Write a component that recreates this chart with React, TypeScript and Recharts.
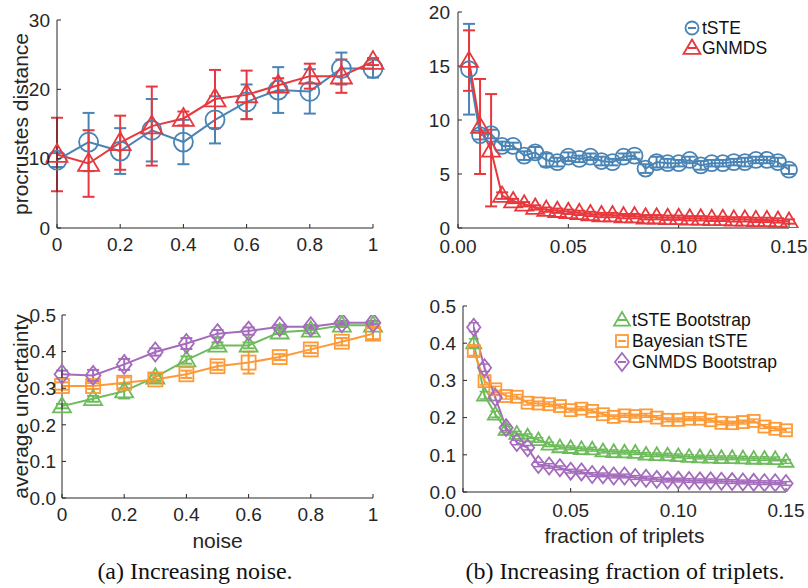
import React from 'react';
import { LineChart, Line, XAxis, YAxis, ErrorBar, Legend, Label } from 'recharts';

const SANS = '"Liberation Sans", Arial, Helvetica, sans-serif';
const SERIF = '"Liberation Serif", "Times New Roman", serif';
const INK = '#262626';
const BLUE = '#4a84b5';
const RED = '#e8383d';
const GREEN = '#6dbb5b';
const ORANGE = '#fd9a38';
const PURPLE = '#a56bbd';

// (a) increasing noise
const noiseLevels = [0, 0.1, 0.2, 0.3, 0.4, 0.5, 0.6, 0.7, 0.8, 0.9, 1];
const noiseTste = [9.8, 12.4, 11.1, 14.1, 12.4, 15.6, 18.2, 19.9, 19.7, 23.0, 23.0];
const noiseTsteErr = [1.0, 4.2, 3.3, 4.5, 3.2, 3.4, 2.5, 3.3, 3.2, 2.3, 1.3];
const noiseGnmds = [10.6, 9.3, 12.3, 14.7, 15.8, 18.6, 19.2, 20.6, 21.9, 21.9, 24.0];
const noiseGnmdsErr = [5.3, 4.8, 3.9, 5.7, 1.0, 4.2, 3.5, 1.0, 1.8, 2.4, 0.5];

const noiseTsteBoot = [0.251, 0.271, 0.292, 0.33, 0.377, 0.417, 0.417, 0.453, 0.458, 0.472, 0.472];
const noiseTsteBootErr = [0.006, 0.008, 0.02, 0.01, 0.01, 0.008, 0.008, 0.005, 0.008, 0.005, 0.005];
const noiseBayes = [0.306, 0.306, 0.315, 0.324, 0.338, 0.36, 0.37, 0.385, 0.406, 0.427, 0.449];
const noiseBayesErr = [0.01, 0.008, 0.015, 0.01, 0.01, 0.01, 0.03, 0.008, 0.01, 0.01, 0.015];
const noiseGnmdsBoot = [0.338, 0.335, 0.365, 0.399, 0.422, 0.449, 0.456, 0.468, 0.468, 0.479, 0.479];
const noiseGnmdsBootErr = [0.01, 0.015, 0.015, 0.01, 0.015, 0.01, 0.01, 0.005, 0.005, 0.005, 0.005];

// (b) increasing fraction of triplets
const fractions = [
  0.005, 0.01, 0.015, 0.02, 0.025, 0.03, 0.035, 0.04, 0.045, 0.05,
  0.055, 0.06, 0.065, 0.07, 0.075, 0.08, 0.085, 0.09, 0.095, 0.1,
  0.105, 0.11, 0.115, 0.12, 0.125, 0.13, 0.135, 0.14, 0.145, 0.15,
];
const fracTste = [
  14.7, 8.6, 8.7, 7.6, 7.6, 6.7, 7.0, 6.3, 6.1, 6.6,
  6.4, 6.6, 6.2, 6.1, 6.6, 6.7, 5.5, 6.1, 6.0, 6.0,
  6.3, 5.8, 6.0, 6.0, 6.1, 6.1, 6.3, 6.3, 6.1, 5.4,
];
const fracTsteErr = [
  4.2, 0.4, 0.4, 0.4, 0.3, 0.4, 0.5, 0.6, 0.4, 0.4,
  0.3, 0.3, 0.4, 0.3, 0.3, 0.3, 0.4, 0.5, 0.4, 0.3,
  0.3, 0.4, 0.3, 0.3, 0.3, 0.4, 0.3, 0.3, 0.4, 0.4,
];
const fracGnmds = [
  15.5, 9.4, 7.2, 3.0, 2.5, 2.2, 1.9, 1.7, 1.6, 1.5,
  1.4, 1.3, 1.2, 1.2, 1.1, 1.1, 1.0, 1.0, 0.95, 0.95,
  0.9, 0.9, 0.85, 0.85, 0.8, 0.8, 0.75, 0.75, 0.7, 0.6,
];
const fracGnmdsErr = [
  2.8, 4.4, 5.2, 0.3, 0.2, 0.2, 0.2, 0.2, 0.2, 0.2,
  0.2, 0.2, 0.2, 0.2, 0.2, 0.2, 0.2, 0.2, 0.2, 0.2,
  0.2, 0.2, 0.2, 0.2, 0.2, 0.2, 0.2, 0.2, 0.2, 0.2,
];

const fracTsteBoot = [
  0.4, 0.26, 0.209, 0.168, 0.157, 0.15, 0.14, 0.128, 0.121, 0.119,
  0.116, 0.115, 0.11, 0.108, 0.107, 0.106, 0.101, 0.1, 0.099, 0.097,
  0.095, 0.094, 0.093, 0.092, 0.092, 0.091, 0.09, 0.09, 0.089, 0.082,
];
const fracBayes = [
  0.379, 0.298, 0.276, 0.258, 0.256, 0.24, 0.238, 0.236, 0.231, 0.22,
  0.224, 0.218, 0.209, 0.202, 0.206, 0.204, 0.206, 0.2, 0.194, 0.194,
  0.197, 0.197, 0.193, 0.186, 0.185, 0.188, 0.191, 0.176, 0.17, 0.166,
];
const fracGnmdsBoot = [
  0.443, 0.334, 0.254, 0.173, 0.133, 0.119, 0.074, 0.07, 0.065, 0.056,
  0.054, 0.047, 0.046, 0.043, 0.043, 0.039, 0.037, 0.034, 0.032, 0.032,
  0.031, 0.03, 0.03, 0.029, 0.028, 0.027, 0.026, 0.025, 0.025, 0.023,
];
const fracBootErr = [
  0.012, 0.01, 0.008, 0.008, 0.006, 0.006, 0.006, 0.006, 0.005, 0.005,
  0.005, 0.005, 0.005, 0.005, 0.005, 0.005, 0.005, 0.005, 0.005, 0.005,
  0.005, 0.005, 0.005, 0.005, 0.005, 0.005, 0.005, 0.005, 0.005, 0.005,
];

const noiseTicks = [0, 0.2, 0.4, 0.6, 0.8, 1];
const fracTicks = [0, 0.05, 0.1, 0.15];
const distTicksA = [0, 10, 20, 30];
const distTicksB = [0, 5, 10, 15, 20];
const uncTicks = [0, 0.1, 0.2, 0.3, 0.4, 0.5];

const noiseDistRows = noiseLevels.map((x, i) => ({
  x, tste: noiseTste[i], tsteErr: noiseTsteErr[i], gnmds: noiseGnmds[i], gnmdsErr: noiseGnmdsErr[i],
}));
const fracDistRows = fractions.map((x, i) => ({
  x, tste: fracTste[i], tsteErr: fracTsteErr[i], gnmds: fracGnmds[i], gnmdsErr: fracGnmdsErr[i],
}));
const noiseUncRows = noiseLevels.map((x, i) => ({
  x,
  boot: noiseTsteBoot[i], bootErr: noiseTsteBootErr[i],
  bayes: noiseBayes[i], bayesErr: noiseBayesErr[i],
  gboot: noiseGnmdsBoot[i], gbootErr: noiseGnmdsBootErr[i],
}));
const fracUncRows = fractions.map((x, i) => ({
  x,
  boot: fracTsteBoot[i], bootErr: fracBootErr[i],
  bayes: fracBayes[i], bayesErr: fracBootErr[i],
  gboot: fracGnmdsBoot[i], gbootErr: fracBootErr[i],
}));

type Shape = 'circle' | 'triangle' | 'square' | 'diamond';

const Marker = ({ shape, cx, cy, r, color }: { shape: Shape; cx: number; cy: number; r: number; color: string }) => {
  const st = { fill: 'none', stroke: color, strokeWidth: 1.8 };
  if (shape === 'circle') return <circle cx={cx} cy={cy} r={r} {...st} />;
  if (shape === 'square') return <rect x={cx - r} y={cy - r} width={2 * r} height={2 * r} {...st} />;
  if (shape === 'diamond') {
    const w = r * 0.78;
    return <polygon points={`${cx},${cy - r} ${cx + w},${cy} ${cx},${cy + r} ${cx - w},${cy}`} {...st} />;
  }
  return <polygon points={`${cx},${cy - r} ${cx + r},${cy + 0.7 * r} ${cx - r},${cy + 0.7 * r}`} {...st} />;
};

const dotFor = (shape: Shape, r: number, color: string) => (p: any) => {
  if (p.cx == null || p.cy == null) return <g key={`e${p.index}`} />;
  return <Marker key={`m${p.index}`} shape={shape} cx={p.cx} cy={p.cy} r={r} color={color} />;
};

const yTitle = (text: string, x: number) => (props: any) => {
  const vb = props.viewBox || {};
  const cy = vb.y + vb.height / 2;
  return (
    <text x={x} y={cy} transform={`rotate(-90, ${x}, ${cy})`} textAnchor="middle" dominantBaseline="central"
      fill={INK} fontSize={21} fontFamily={SANS}>{text}</text>
  );
};

const xTitle = (text: string, dy: number) => (props: any) => {
  const vb = props.viewBox || {};
  return (
    <text x={vb.x + vb.width / 2} y={vb.y + dy} textAnchor="middle" dominantBaseline="central"
      fill={INK} fontSize={21} fontFamily={SANS}>{text}</text>
  );
};

type LegendItem = { name: string; shape: Shape; color: string; r: number };

const legendBox = (items: LegendItem[], rowGap: number, width: number) => () => (
  <svg width={width} height={items.length * rowGap + 6} style={{ display: 'block', overflow: 'visible' }}>
    {items.map((it, i) => {
      const cy = 10 + i * rowGap;
      return (
        <g key={it.name}>
          <Marker shape={it.shape} cx={12} cy={cy} r={it.r} color={it.color} />
          <line x1={8} x2={16} y1={cy} y2={cy} stroke={it.color} strokeWidth={2} />
          <text x={22} y={cy} dominantBaseline="central" fill="#111" fontSize={17.5} fontFamily={SANS}>{it.name}</text>
        </g>
      );
    })}
  </svg>
);

const tickStyle = { fill: INK, fontSize: 19, fontFamily: SANS };
const axisProps = {
  axisLine: { stroke: INK, strokeWidth: 1 },
  tickLine: { stroke: INK, strokeWidth: 1 },
  tick: tickStyle,
  tickSize: -4,
};

const fmt1 = (v: number) => v.toFixed(1);
const fmt2 = (v: number) => v.toFixed(2);

const captionStyle: React.CSSProperties = {
  position: 'absolute', top: 557, textAlign: 'center', fontFamily: SERIF, fontSize: 24, color: '#111', lineHeight: '28px',
  whiteSpace: 'nowrap',
};

export default function App() {
  return (
    <div style={{ position: 'absolute', left: 0, top: 0, width: 808, height: 588, background: '#fff', overflow: 'hidden' }}>
      {/* top-left: procrustes distance vs noise */}
      <div style={{ position: 'absolute', left: 0, top: 0 }}>
        <LineChart width={400} height={270} data={noiseDistRows} margin={{ top: 20, right: 27, bottom: 12, left: 0 }}>
          <XAxis dataKey="x" type="number" domain={[0, 1]} ticks={noiseTicks} height={30} tickMargin={14} {...axisProps} />
          <YAxis type="number" domain={[0, 30]} ticks={distTicksA} width={57} tickMargin={11} allowDataOverflow {...axisProps}>
            <Label content={yTitle('procrustes distance', 20)} />
          </YAxis>
          <Line dataKey="tste" stroke={BLUE} strokeWidth={2} isAnimationActive={false} activeDot={false} dot={dotFor('circle', 9.5, BLUE)}>
            <ErrorBar dataKey="tsteErr" width={6} stroke={BLUE} strokeWidth={2} direction="y" isAnimationActive={false} />
          </Line>
          <Line dataKey="gnmds" stroke={RED} strokeWidth={2} isAnimationActive={false} activeDot={false} dot={dotFor('triangle', 10.5, RED)}>
            <ErrorBar dataKey="gnmdsErr" width={6} stroke={RED} strokeWidth={2} direction="y" isAnimationActive={false} />
          </Line>
        </LineChart>
      </div>

      {/* top-right: procrustes distance vs fraction of triplets */}
      <div style={{ position: 'absolute', left: 400, top: 0 }}>
        <LineChart width={408} height={270} data={fracDistRows} margin={{ top: 12, right: 19, bottom: 12, left: 0 }}>
          <XAxis dataKey="x" type="number" domain={[0, 0.15]} ticks={fracTicks} tickFormatter={fmt2} height={30} tickMargin={16} {...axisProps} />
          <YAxis type="number" domain={[0, 20]} ticks={distTicksB} width={58} tickMargin={12} allowDataOverflow {...axisProps} />
          <Line dataKey="tste" name="tSTE" stroke={BLUE} strokeWidth={2} isAnimationActive={false} activeDot={false} dot={dotFor('circle', 8, BLUE)}>
            <ErrorBar dataKey="tsteErr" width={6} stroke={BLUE} strokeWidth={2} direction="y" isAnimationActive={false} />
          </Line>
          <Line dataKey="gnmds" name="GNMDS" stroke={RED} strokeWidth={2} isAnimationActive={false} activeDot={false} dot={dotFor('triangle', 9, RED)}>
            <ErrorBar dataKey="gnmdsErr" width={6} stroke={RED} strokeWidth={2} direction="y" isAnimationActive={false} />
          </Line>
          <Legend
            layout="vertical" align="center" verticalAlign="middle"
            wrapperStyle={{ position: 'absolute', left: 280, top: 18, width: 120 }}
            content={legendBox([
              { name: 'tSTE', shape: 'circle', color: BLUE, r: 6.5 },
              { name: 'GNMDS', shape: 'triangle', color: RED, r: 8.5 },
            ], 20, 120)}
          />
        </LineChart>
      </div>

      {/* bottom-left: average uncertainty vs noise */}
      <div style={{ position: 'absolute', left: 0, top: 290 }}>
        <LineChart width={400} height={260} data={noiseUncRows} margin={{ top: 25, right: 27, bottom: 2, left: 0 }}>
          <XAxis dataKey="x" type="number" domain={[0, 1]} ticks={noiseTicks} height={50} tickMargin={14} {...axisProps}>
            <Label content={xTitle('noise', 42)} />
          </XAxis>
          <YAxis type="number" domain={[0, 0.5]} ticks={uncTicks} tickFormatter={fmt1} width={62} tickMargin={10} allowDataOverflow {...axisProps}>
            <Label content={yTitle('average uncertainty', 20)} />
          </YAxis>
          <Line dataKey="boot" stroke={GREEN} strokeWidth={2} isAnimationActive={false} activeDot={false} dot={dotFor('triangle', 9, GREEN)}>
            <ErrorBar dataKey="bootErr" width={6} stroke={GREEN} strokeWidth={2} direction="y" isAnimationActive={false} />
          </Line>
          <Line dataKey="bayes" stroke={ORANGE} strokeWidth={2} isAnimationActive={false} activeDot={false} dot={dotFor('square', 7, ORANGE)}>
            <ErrorBar dataKey="bayesErr" width={6} stroke={ORANGE} strokeWidth={2} direction="y" isAnimationActive={false} />
          </Line>
          <Line dataKey="gboot" stroke={PURPLE} strokeWidth={2} isAnimationActive={false} activeDot={false} dot={dotFor('diamond', 9.5, PURPLE)}>
            <ErrorBar dataKey="gbootErr" width={6} stroke={PURPLE} strokeWidth={2} direction="y" isAnimationActive={false} />
          </Line>
        </LineChart>
      </div>

      {/* bottom-right: average uncertainty vs fraction of triplets */}
      <div style={{ position: 'absolute', left: 400, top: 290 }}>
        <LineChart width={408} height={260} data={fracUncRows} margin={{ top: 16, right: 22, bottom: 8, left: 0 }}>
          <XAxis dataKey="x" type="number" domain={[0, 0.15]} ticks={fracTicks} tickFormatter={fmt2} height={50} tickMargin={16} {...axisProps}>
            <Label content={xTitle('fraction of triplets', 43)} />
          </XAxis>
          <YAxis type="number" domain={[0, 0.5]} ticks={uncTicks} tickFormatter={fmt1} width={63} tickMargin={11} allowDataOverflow {...axisProps} />
          <Line dataKey="boot" name="tSTE Bootstrap" stroke={GREEN} strokeWidth={2} isAnimationActive={false} activeDot={false} dot={dotFor('triangle', 7.5, GREEN)}>
            <ErrorBar dataKey="bootErr" width={5} stroke={GREEN} strokeWidth={1.5} direction="y" isAnimationActive={false} />
          </Line>
          <Line dataKey="bayes" name="Bayesian tSTE" stroke={ORANGE} strokeWidth={2} isAnimationActive={false} activeDot={false} dot={dotFor('square', 6, ORANGE)}>
            <ErrorBar dataKey="bayesErr" width={5} stroke={ORANGE} strokeWidth={1.5} direction="y" isAnimationActive={false} />
          </Line>
          <Line dataKey="gboot" name="GNMDS Bootstrap" stroke={PURPLE} strokeWidth={2} isAnimationActive={false} activeDot={false} dot={dotFor('diamond', 8.5, PURPLE)}>
            <ErrorBar dataKey="gbootErr" width={5} stroke={PURPLE} strokeWidth={1.5} direction="y" isAnimationActive={false} />
          </Line>
          <Legend
            layout="vertical" align="center" verticalAlign="middle"
            wrapperStyle={{ position: 'absolute', left: 210, top: 20, width: 190 }}
            content={legendBox([
              { name: 'tSTE Bootstrap', shape: 'triangle', color: GREEN, r: 8 },
              { name: 'Bayesian tSTE', shape: 'square', color: ORANGE, r: 6 },
              { name: 'GNMDS Bootstrap', shape: 'diamond', color: PURPLE, r: 9 },
            ], 21, 190)}
          />
        </LineChart>
      </div>

      <div style={{ ...captionStyle, left: 0, width: 390 }}>(a) Increasing noise.</div>
      <div style={{ ...captionStyle, left: 400, width: 450 }}>(b) Increasing fraction of triplets.</div>
    </div>
  );
}
